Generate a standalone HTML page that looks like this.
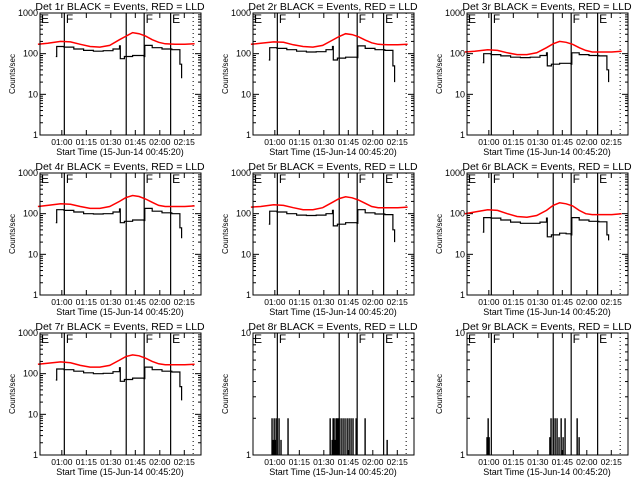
<!DOCTYPE html>
<html><head><meta charset="utf-8">
<style>
html,body{margin:0;padding:0;background:#fff;}
svg{display:block;font-family:"Liberation Sans",sans-serif;}
</style></head>
<body>
<svg id="fig" width="640" height="480" viewBox="0 0 640 480" xmlns="http://www.w3.org/2000/svg"></svg>
<script>
// ---- data ----
const timeTicks = ["01:00","01:15","01:30","01:45","02:00","02:15"];
const tickMinutes = [14.67,29.67,44.67,59.67,74.67,89.67]; // minutes after 00:45:20
const markerTimes = [16.2,54.1,65.1,81.3];
const dottedTimes = [95.1];
const markerLabels = ["F","","F","E"];
const redTimes = [0,6,14,20,26,32,38,44,50,54,58,62,66,70,74,78,84,90,96];
const blackTimes = [11,11.5,16,22,28,34,40,46,50,50.5,53,58,62,65,65.5,70,76,82,86,87,88];
const red1 = [170,180,200,195,170,150,145,160,220,270,330,310,270,220,190,175,170,170,175];
const black1 = [85,150,145,130,120,115,118,130,155,75,85,90,90,85,160,140,130,125,125,55,25];
const red2 = [170,180,195,190,165,150,145,160,215,265,310,295,260,215,185,170,165,165,170];
const black2 = [70,140,135,125,115,110,112,125,150,70,78,82,82,80,155,135,125,120,120,50,20];
const red3 = [110,115,125,120,105,95,95,105,140,175,200,190,170,140,120,110,110,110,115];
const black3 = [60,100,95,88,82,80,82,90,105,50,55,58,58,55,105,95,90,88,88,40,20];
const red4 = [150,160,175,170,150,135,135,150,200,250,280,265,230,190,160,150,150,150,155];
const black4 = [60,125,120,110,100,98,100,110,130,60,65,70,70,68,135,115,105,100,100,45,25];
const red5 = [145,150,165,160,140,125,125,140,190,235,260,245,215,180,150,140,140,140,145];
const black5 = [55,115,110,100,92,90,92,100,120,50,55,60,60,58,125,105,98,95,95,40,20];
const red6 = [100,110,125,120,100,85,82,90,120,160,185,175,155,120,100,95,95,95,100];
const black6 = [35,80,78,70,62,58,58,62,78,27,30,33,32,30,80,70,65,63,63,30,22];
const red7 = [170,180,195,185,160,145,145,160,215,265,290,275,240,200,175,165,165,165,170];
const black7 = [70,130,125,115,105,100,102,112,140,65,72,78,78,75,145,125,115,110,110,48,22];
const spikeTimes8 = [12.9,13.5,14.2,14.8,15.4,17.2,18.4,22.7,48.5,49.7,50.3,50.9,51.5,52.1,52.7,53.4,54.0,55.2,56.4,57.6,58.9,60.1,61.3,62.5,64.4,69.9,83.4];
const spikeVals8 = [2,1.33,2,1.33,2,2,1.33,2,2,1.33,2,2,1.33,2,2,2,2,2,2,2,2,2,2,2,2,2,1.33];
const spikeTimes9 = [13.5,14.2,14.8,52.0,52.7,54.0,55.2,56.4,57.6,58.9,60.1,61.3,68.7,69.9];
const spikeVals9 = [1.4,2,1.4,1.4,2,2,2,2,1.4,2,1.4,2,2,1.4];

const panels = [
 {n:1,red:red1,black:black1},{n:2,red:red2,black:black2},{n:3,red:red3,black:black3},
 {n:4,red:red4,black:black4},{n:5,red:red5,black:black5},{n:6,red:red6,black:black6},
 {n:7,red:red7,black:black7},{n:8,st:spikeTimes8,sv:spikeVals8},{n:9,st:spikeTimes9,sv:spikeVals9}
];

const NS="http://www.w3.org/2000/svg";
const fig=document.getElementById('fig');
function mk(tag,attrs,parent){const e=document.createElementNS(NS,tag);for(const k in attrs)e.setAttribute(k,attrs[k]);parent.appendChild(e);return e;}
const TMIN=1.3, TMAX=99.9;

panels.forEach((p,i)=>{
  const ox=[0,213,427][i%3], oy=[0,160,320][Math.floor(i/3)];
  const x0=ox+40,x1=ox+201,y0=oy+13,y1=oy+135;
  const logMax = p.red ? 3 : 1;
  const X=t=>x0+(t-TMIN)/(TMAX-TMIN)*(x1-x0);
  const Y=v=>y1-Math.log10(Math.max(v,1))/logMax*(y1-y0);
  const g=mk('g',{},fig);
  
  
  const title=mk('text',{x:ox+120,y:oy+10,'text-anchor':'middle','font-size':'10.5'},g);
  title.textContent='Det '+p.n+'r BLACK = Events, RED = LLD';
  
  
  const yl=mk('text',{x:0,y:0,'text-anchor':'middle','font-size':'8',transform:`translate(${ox+15},${(y0+y1)/2}) rotate(-90)`},g);
  yl.textContent='Counts/sec';
  
  
  const xl=mk('text',{x:ox+120,y:oy+155,'text-anchor':'middle','font-size':'9'},g);
  xl.textContent='Start Time (15-Jun-14 00:45:20)';
  
  
  for(let d=0;d<=logMax;d++){
    const y=y1-d/logMax*(y1-y0);
    const lab=mk('text',{x:x0-2,y:y+3,'text-anchor':'end','font-size':'9'},g);
    lab.textContent=String(Math.pow(10,d));
    
    
    mk('line',{x1:x0,y1:y,x2:x0+6,y2:y,stroke:'#000'},g);
    mk('line',{x1:x1,y1:y,x2:x1-6,y2:y,stroke:'#000'},g);
    if(d<logMax){for(let m=2;m<=9;m++){const ym=Y(Math.pow(10,d)*m);
      mk('line',{x1:x0,y1:ym,x2:x0+3,y2:ym,stroke:'#000'},g);
      mk('line',{x1:x1,y1:ym,x2:x1-3,y2:ym,stroke:'#000'},g);}}
  }
  tickMinutes.forEach((t,k)=>{
    const x=X(t);
    mk('line',{x1:x,y1:y1,x2:x,y2:y1-5,stroke:'#000'},g);
    mk('line',{x1:x,y1:y0,x2:x,y2:y0+5,stroke:'#000'},g);
    const lab=mk('text',{x:x,y:oy+145,'text-anchor':'middle','font-size':'8.5'},g);
    lab.textContent=timeTicks[k];
    
    
  });
  markerTimes.forEach((t,k)=>{
    const x=X(t);
    const l=mk('line',{x1:x,y1:y0,x2:x,y2:y1,stroke:'#000','stroke-width':1.2},g);
    
    
    if(markerLabels[k]){
      const lab=mk('text',{x:x+1.5,y:y0+10,'font-size':'12'},g);
      lab.textContent=markerLabels[k];
      
      
    }
  });
  const eLab=mk('text',{x:x0+1,y:y0+10,'font-size':'12'},g);
  eLab.textContent='E';
  
  
  dottedTimes.forEach(t=>{
    const l=mk('line',{x1:X(t),y1:y0,x2:X(t),y2:y1,stroke:'#000','stroke-dasharray':'1,3'},g);
    
    
  });
  if(p.red){
    const rp=redTimes.map((t,k)=>X(t).toFixed(1)+','+Y(p.red[k]).toFixed(1)).join(' ');
    const r=mk('polyline',{points:rp,fill:'none',stroke:'#f00','stroke-width':1.5},g);
    
    
    let d='';
    blackTimes.forEach((t,k)=>{
      const x=X(t).toFixed(1), y=Y(p.black[k]).toFixed(1);
      if(k===0) d+=`M${x},${y}`; else d+=`H${x}V${y}`;
    });
    const b=mk('path',{d:d,fill:'none',stroke:'#000','stroke-width':1.2},g);
    
    
  } else {
    p.st.forEach((t,k)=>{
      const x=X(t);
      const s=mk('rect',{x:x-0.6,y:Y(p.sv[k]),width:1.4,height:y1-Y(p.sv[k]),fill:'#000'},g);
      
      
    });
  }
  const frame=mk('rect',{x:x0,y:y0,width:x1-x0,height:y1-y0,fill:'none',stroke:'#000','stroke-width':1},g);
  
  
});
</script>
</body></html>
